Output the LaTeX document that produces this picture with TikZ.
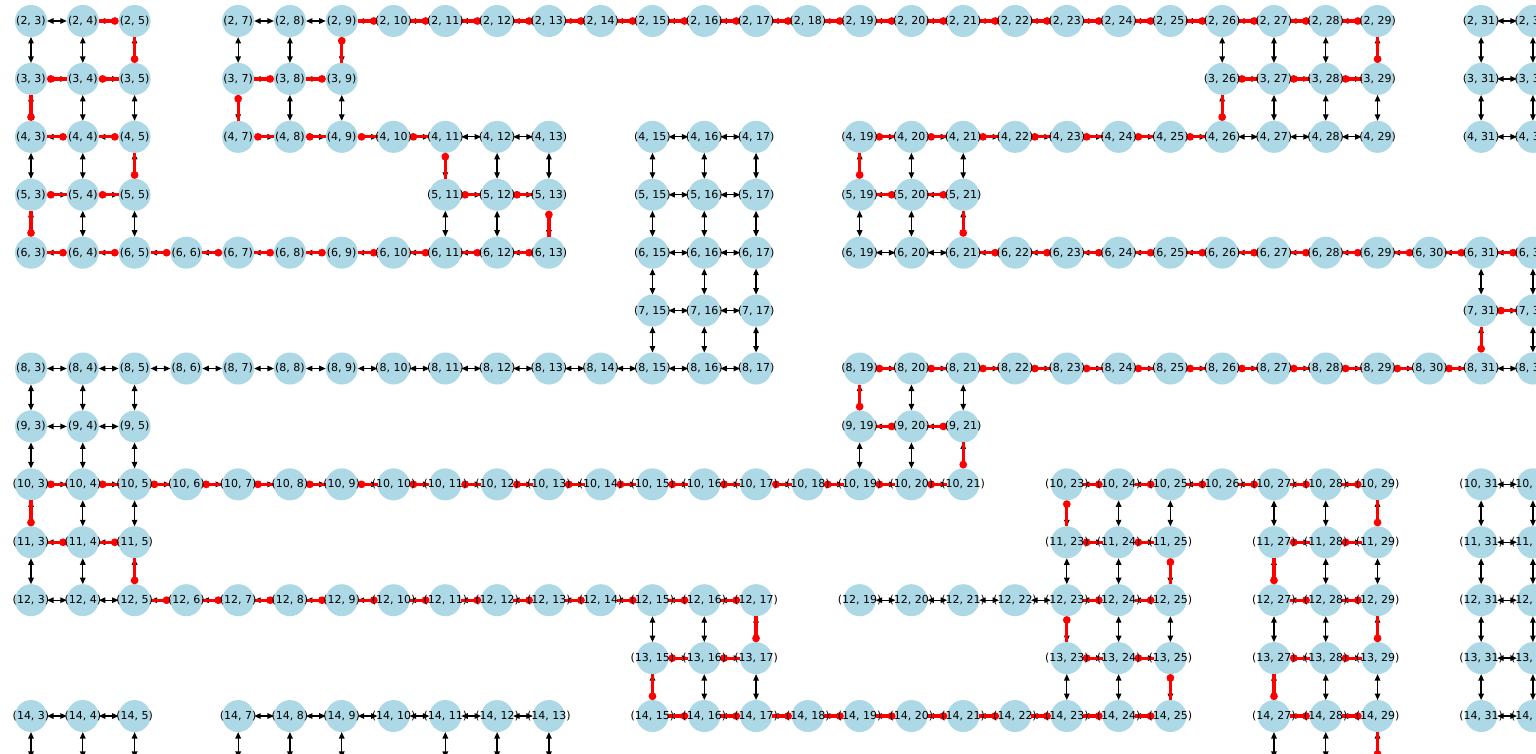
\documentclass[tikz,border=0pt]{standalone}
\usepackage{fontspec}
\setmainfont{DejaVu Sans}
\usetikzlibrary{arrows.meta}
\definecolor{nodeblue}{HTML}{ADD8E6}
\definecolor{pathred}{HTML}{FF0000}
\tikzset{
  vnode/.style={circle, fill=nodeblue, minimum size=32pt, inner sep=0pt, outer sep=0pt},
  lbl/.style={inner sep=0pt, font=\fontsize{11}{13}\selectfont, text=black},
  barrow/.style={draw=black, line width=1.3pt,
    {Triangle[length=6.5pt,width=5.5pt]}-{Triangle[length=6.5pt,width=5.5pt]}},
  rpath/.style={draw=pathred, line width=3.2pt, -{Circle[length=7.5pt,color=pathred]}},
}
\def\gridrows{2/{3,4,5,7,8,...,29,31,32},
  3/{3,4,5,7,8,9,26,27,28,29,31,32},
  4/{3,4,5,7,8,...,13,15,16,17,19,20,...,29,31,32},
  5/{3,4,5,11,12,13,15,16,17,19,20,21},
  6/{3,4,...,13,15,16,17,19,20,...,32},
  7/{15,16,17,31,32},
  8/{3,4,...,17,19,20,...,32},
  9/{3,4,5,19,20,21},
  10/{3,4,...,21,23,24,...,29,31,32},
  11/{3,4,5,23,24,25,27,28,29,31,32},
  12/{3,4,...,17,19,20,...,25,27,28,29,31,32},
  13/{15,16,17,23,24,25,27,28,29,31,32},
  14/{3,4,5,7,8,...,13,15,16,...,25,27,28,29,31,32}}
\begin{document}
\begin{tikzpicture}[x=1pt,y=1pt]
\fill[white] (0,0) rectangle (1536,-754);
\useasboundingbox (0,0) rectangle (1536,-754);
% nodes
\foreach \r/\cols in \gridrows {
  \foreach \c in \cols {
    \node[vnode] (n-\r-\c) at ({31+(\c-3)*51.79},{-21-(\r-2)*57.92}) {};
  }
}
% free ends below row 14
\foreach \c in {3,4,5,7,8,9,11,12,13,27,28,29} {
  \coordinate (b-\c) at ({31+(\c-3)*51.79},{-21-13*57.92+16});
}
% black double arrows
\foreach \r/\cols in \gridrows {
  \foreach \c in \cols {
    \pgfmathtruncatemacro\cn{\c+1}
    \pgfmathtruncatemacro\rn{\r+1}
    \ifcsname pgf@sh@ns@n-\r-\cn\endcsname
      \draw[barrow] (n-\r-\c) -- (n-\r-\cn);
    \fi
    \ifcsname pgf@sh@ns@n-\rn-\c\endcsname
      \draw[barrow] (n-\r-\c) -- (n-\rn-\c);
    \fi
  }
}
\foreach \c in {3,4,5,7,8,9,11,12,13,27,28,29} {
  \draw[barrow] (n-14-\c) -- (b-\c);
}
% red path, first visible run
\foreach \r/\c [remember=\r as \pr (initially 0), remember=\c as \pc (initially 0)] in
 {2/4,2/5,3/5,3/4,3/3,4/3,4/4,4/5,5/5,5/4,5/3,6/3,6/4,6/5,6/6,6/7,6/8,6/9,6/10,6/11,6/12,6/13,
  5/13,5/12,5/11,4/11,4/10,4/9,4/8,4/7,3/7,3/8,3/9,2/9,2/10,2/11,2/12,2/13,2/14,2/15,2/16,2/17,
  2/18,2/19,2/20,2/21,2/22,2/23,2/24,2/25,2/26,2/27,2/28,2/29,3/29,3/28,3/27,3/26,4/26,4/25,
  4/24,4/23,4/22,4/21,4/20,4/19,5/19,5/20,5/21,6/21,6/22,6/23,6/24,6/25,6/26,6/27,6/28,6/29,
  6/30,6/31,6/32} {
  \ifnum\pr>0 \draw[rpath] (n-\pr-\pc) -- (n-\r-\c); \fi
}
% red path, second visible run
\foreach \r/\c [remember=\r as \pr (initially 0), remember=\c as \pc (initially 0)] in
 {7/32,7/31,8/31,8/30,8/29,8/28,8/27,8/26,8/25,8/24,8/23,8/22,8/21,8/20,8/19,9/19,9/20,9/21,
  10/21,10/20,10/19,10/18,10/17,10/16,10/15,10/14,10/13,10/12,10/11,10/10,10/9,10/8,10/7,10/6,
  10/5,10/4,10/3,11/3,11/4,11/5,12/5,12/6,12/7,12/8,12/9,12/10,12/11,12/12,12/13,12/14,12/15,
  12/16,12/17,13/17,13/16,13/15,14/15,14/16,14/17,14/18,14/19,14/20,14/21,14/22,14/23,14/24,
  14/25,13/25,13/24,13/23,12/23,12/24,12/25,11/25,11/24,11/23,10/23,10/24,10/25,10/26,10/27,
  10/28,10/29,11/29,11/28,11/27,12/27,12/28,12/29,13/29,13/28,13/27,14/27,14/28,14/29} {
  \ifnum\pr>0 \draw[rpath] (n-\pr-\pc) -- (n-\r-\c); \fi
}
\draw[rpath] (n-14-29) -- (b-29);
% labels
\foreach \r/\cols in \gridrows {
  \foreach \c in \cols {
    \node[lbl] (l-\r-\c) at (n-\r-\c) {(\r, \c)};
  }
}
\end{tikzpicture}
\end{document}
